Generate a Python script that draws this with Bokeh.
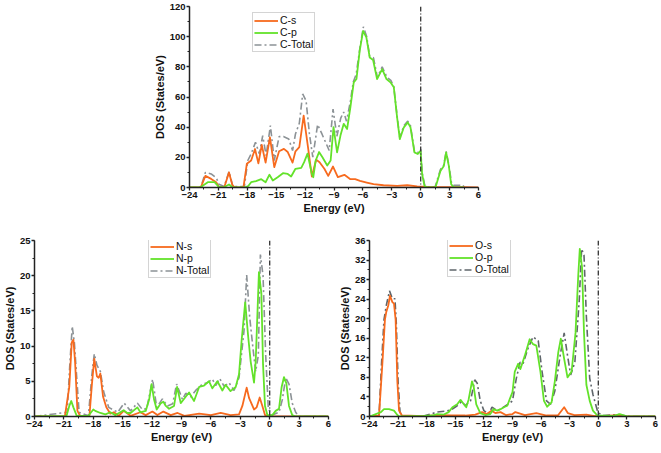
from bokeh.plotting import figure
from bokeh.models import Span, Legend, LegendItem, Range1d, SingleIntervalTicker
from bokeh.layouts import column, row
from bokeh.embed import file_html
from bokeh.resources import INLINE

# ---------------- data: C panel ----------------
c_s_e = [-24, -23.0, -22.8, -22.35, -21.75, -21.23, -20.95, -20.6, -20.4, -19.9, -19.56, -19.3,
         -18.4, -18.05, -17.6, -17.2, -16.85, -16.5, -16.1, -15.65, -15.2, -14.7, -14.2, -13.8,
         -13.3, -13.0, -12.6, -12.15, -11.7, -11.3, -10.85, -10.5, -10.0, -9.6, -9.1, -8.6,
         -7.92, -7.3, -6.8, -6.3, -5.6, -4.9, -3.86, -2.45, -1.4, -0.37, 0.67, 2.0, 4.5, 6]
c_s = [0, 0, 0.5, 7.7, 5.7, 3.5, 0.4, 0, 0, 10.0, 1.8, 0,
       0, 15.7, 17.9, 25.5, 16.0, 28.2, 16.5, 33.3, 13.5, 24.0, 25.6, 23.5,
       16.5, 24.0, 26.7, 47.6, 26.7, 7.3, 18.5, 16.8, 12.4, 7.7, 13.9, 6.9,
       8.4, 5.5, 5.5, 4.4, 3.3, 2.2, 1.5, 1.1, 1.5, 0.7, 0.4, 0.3, 0.3, 0]
c_p_e = [-24, -22.9, -22.1, -21.4, -20.95, -20.5, -19.9, -19.5, -18.3, -17.9, -17.6, -17.1,
         -16.55, -16.1, -15.7, -15.35, -14.85, -14.3, -13.8, -13.45, -13.0, -12.4, -12.1, -11.75,
         -11.3, -11.15, -10.9, -10.55, -10.2, -9.7, -9.35, -9.05, -8.68, -8.33, -7.99, -7.64,
         -7.3, -6.95, -6.67, -6.33, -5.98, -5.64, -5.29, -4.94, -4.53, -4.0, -3.55, -3.14,
         -2.79, -2.45, -2.17, -1.75, -1.34, -1.06, -0.65, -0.3, -0.02, 0.15, 0.39, 0.67,
         1.53, 2.05, 2.4, 2.64, 2.92, 3.16, 3.44, 4.5]
c_p = [0, 0, 3.5, 3.5, 0.4, 0, 2.0, 0, 0, 1.0, 3.5, 4.2,
       5.5, 3.5, 8.5, 4.6, 6.8, 9.5, 9.0, 7.3, 12.4, 13.0, 16.8, 22.5,
       9.0, 6.8, 17.9, 23.5, 20.1, 14.6, 17.9, 40.0, 23.3, 34.4, 42.2, 38.8,
       53.2, 69.7, 71.9, 90.7, 103.9, 99.5, 86.2, 84.5, 71.9, 78.5, 71.9, 69.7,
       66.4, 46.5, 32.1, 39.9, 43.2, 39.9, 23.3, 22.2, 24.4, 8.8, 1.1, 0,
       0, 11.0, 14.3, 23.2, 14.3, 2.2, 0, 0]
c_t_e = [-24, -23.0, -22.8, -22.35, -21.75, -21.2, -20.95, -20.4, -19.9, -19.5, -18.3, -17.95,
         -17.6, -17.15, -16.75, -16.4, -16.05, -15.6, -15.2, -14.7, -14.2, -13.7, -13.3, -13.0,
         -12.6, -12.25, -11.9, -11.55, -11.2, -10.7, -10.25, -9.8, -9.5, -9.1, -8.7, -8.3,
         -8.0, -7.7, -7.3, -7.0, -6.7, -6.3, -5.95, -5.6, -5.3, -4.9, -4.5, -4.0,
         -3.5, -3.1, -2.8, -2.45, -2.17, -1.75, -1.34, -1.06, -0.65, -0.3, 0.0, 0.15,
         0.4, 0.7, 1.5, 2.05, 2.4, 2.64, 2.92, 3.2, 3.4, 4.4, 4.5]
c_t = [0, 0, 0.7, 10.0, 9.0, 6.2, 2.2, 0.7, 10.6, 0.7, 0.7, 17.9,
       22.3, 30.0, 22.3, 34.4, 21.2, 41.0, 17.9, 33.7, 33.7, 32.2, 24.5, 35.5,
       42.6, 62.0, 57.6, 35.5, 20.1, 41.7, 35.5, 28.9, 24.5, 52.0, 34.0, 46.0,
       50.0, 44.0, 57.0, 70.0, 75.0, 93.0, 106.5, 100.0, 87.0, 86.0, 73.0, 80.0,
       73.0, 71.0, 67.0, 47.5, 33.0, 41.0, 44.0, 41.0, 24.0, 23.0, 25.5, 10.0,
       2.0, 0.5, 0.5, 12.0, 15.0, 24.0, 15.0, 3.0, 1.5, 1.5, 0]

# ---------------- data: N panel ----------------
n_s_e = [-24, -20.9, -20.45, -20.2, -20.03, -19.86, -19.62, -19.35, -18.4, -18.14, -17.9, -17.63,
         -17.46, -17.28, -17.0, -16.67, -16.26, -15.9, -15.4, -14.9, -14.2, -13.2, -12.65, -11.97,
         -11.46, -10.85, -10.1, -9.4, -8.7, -7.2, -6.0, -5.0, -4.0, -3.13, -2.79, -2.35,
         -2.1, -1.6, -1.33, -1.02, -0.75, -0.48, -0.07, 6]
n_s = [0, 0, 4.2, 10.5, 10.9, 7.8, 0.8, 0.1, 0, 4.6, 8.2, 5.7,
       5.5, 6.1, 2.8, 1.3, 0.4, 0.6, 0.1, 0.8, 0.1, 0.6, 0.2, 0.7,
       0.2, 0.7, 0.2, 0.5, 0.1, 0.4, 0.2, 0.5, 0.2, 0.3, 1.5, 4.1,
       2.6, 1.0, 1.3, 2.7, 1.5, 0.2, 0, 0]
n_p_e = [-24, -20.73, -20.45, -20.25, -20.03, -19.69, -18.5, -18.0, -17.8, -17.28, -16.77, -16.26,
         -15.75, -15.24, -14.9, -14.55, -14.2, -13.5, -13.2, -12.65, -12.3, -12.05, -11.8, -11.53,
         -11.1, -10.85, -10.6, -10.27, -9.76, -9.45, -9.08, -8.57, -8.23, -7.72, -7.2, -6.7,
         -6.19, -5.85, -5.34, -4.83, -4.5, -4.0, -3.47, -3.13, -2.86, -2.5, -2.2, -1.94,
         -1.6, -1.43, -1.1, -0.85, -0.68, -0.48, -0.24, 0.27, 0.61, 0.95, 1.22, 1.46,
         1.7, 1.97, 2.3, 2.65, 6]
n_p = [0, 0.1, 1.5, 2.2, 1.3, 0.1, 0.1, 1.0, 0.8, 0.5, 0.3, 0.6,
       0.2, 0.6, 0.9, 0.5, 0.5, 1.3, 0.6, 0.8, 2.4, 4.6, 2.4, 1.0,
       1.9, 2.1, 1.5, 1.1, 1.5, 4.2, 1.9, 2.8, 3.4, 2.2, 4.2, 4.4,
       5.0, 4.0, 5.0, 3.7, 4.5, 3.6, 4.2, 6.0, 10.9, 16.2, 11.4, 7.8,
       4.8, 7.8, 20.5, 17.5, 7.4, 1.5, 0.2, 0.2, 0.8, 1.1, 4.2, 5.6,
       4.7, 1.5, 0.2, 0, 0]
n_t_e = [-24, -20.66, -20.4, -20.15, -19.93, -19.69, -19.45, -18.5, -18.14, -17.9, -17.63, -17.28,
         -16.94, -16.43, -15.9, -15.5, -14.85, -14.2, -13.5, -13.0, -12.55, -11.95, -11.53, -10.95,
         -10.44, -9.9, -9.5, -8.9, -8.57, -8.06, -7.55, -6.87, -6.36, -5.85, -5.51, -5.1,
         -4.66, -4.15, -3.64, -3.13, -2.62, -2.35, -2.04, -1.7, -1.43, -1.16, -0.95, -0.68,
         -0.41, -0.14, 0.27, 0.95, 1.29, 1.63, 1.97, 2.3, 2.65, 2.99, 6]
n_t = [0, 0.6, 7.3, 12.8, 10.5, 5.5, 0.6, 0.1, 6.0, 8.9, 7.3, 6.4,
       3.5, 1.3, 0.9, 0.6, 1.9, 0.8, 1.9, 1.0, 1.1, 5.3, 1.3, 2.5,
       1.5, 1.8, 4.6, 2.4, 3.3, 2.8, 3.7, 4.6, 4.8, 5.3, 4.4, 5.4,
       4.3, 4.8, 3.7, 5.5, 12.2, 20.1, 14.1, 9.6, 6.4, 8.7, 23.0, 20.0,
       8.7, 1.1, 0.2, 0.6, 2.4, 5.5, 4.6, 1.9, 0.6, 0, 0]

# ---------------- data: O panel ----------------
o_s_e = [-24, -23.0, -22.66, -22.38, -22.24, -22.03, -21.85, -21.6, -21.43, -21.26, -21.08, -20.9,
         -20.6, -18.3, -16.7, -15.4, -13.96, -12.9, -12.2, -11.7, -11.2, -10.8, -10.26, -9.7,
         -9.0, -8.7, -7.7, -6.5, -5.43, -4.2, -3.58, -3.2, -2.5, -1.25, -0.4, 0, 2.0, 2.5, 6]
o_s = [0, 0.2, 10.5, 19.8, 21.4, 22.7, 24.7, 23.4, 23.1, 19.8, 7.2, 1.2,
       0.2, 0.05, 0.3, 0.25, 0.2, 0.4, 0.9, 0.5, 1.2, 0.7, 0.9, 0.3,
       0.5, 0.9, 0.3, 0.7, 0.2, 0.3, 1.9, 0.7, 0.3, 0.4, 0.1, 0, 0.3, 0, 0]
o_p_e = [-24, -22.8, -22.48, -21.96, -21.43, -21.08, -20.9, -18.3, -17.4, -16.9, -16.2, -15.7,
         -15.3, -14.8, -14.45, -14.1, -13.85, -13.6, -13.25, -13.08, -12.8, -12.38, -11.86, -11.33,
         -11.0, -10.6, -10.26, -9.9, -9.55, -9.3, -9.0, -8.76, -8.4, -8.17, -7.7, -7.2,
         -6.84, -6.5, -6.07, -5.7, -5.36, -4.9, -4.56, -4.2, -3.93, -3.58, -3.23, -2.8,
         -2.39, -2.1, -1.94, -1.7, -1.5, -1.25, -0.9, -0.56, -0.1, 1.5, 2.25, 3.1, 6]
o_p = [0, 0.9, 1.5, 1.5, 1.2, 0.3, 0, 0.1, 0.2, 0.5, 0.4, 0.9,
       1.9, 2.5, 3.4, 2.5, 1.9, 3.5, 7.2, 6.2, 2.5, 0.7, 0.3, 0.5,
       1.5, 1.2, 1.5, 1.9, 2.2, 3.5, 5.0, 9.2, 10.8, 9.7, 12.5, 15.8,
       14.8, 14.5, 9.2, 3.2, 2.0, 2.9, 7.2, 13.1, 15.9, 11.8, 8.0, 9.2,
       17.1, 29.0, 34.3, 30.4, 17.1, 6.5, 3.2, 1.2, 0.2, 0.1, 0.5, 0, 0]
o_t_e = [-24, -23.0, -22.73, -22.48, -22.24, -21.9, -21.6, -21.33, -21.19, -21.0, -20.8, -20.56,
         -18.3, -16.9, -16.0, -15.5, -14.8, -14.3, -13.96, -13.4, -12.96, -12.7, -12.38, -12.0,
         -11.5, -11.15, -10.6, -10.1, -9.55, -9.0, -8.6, -8.2, -7.9, -7.4, -6.84, -6.3,
         -5.9, -5.43, -5.0, -4.56, -4.0, -3.58, -3.23, -2.9, -2.46, -2.0, -1.75, -1.5,
         -1.25, -0.9, -0.56, -0.03, 0.6, 2.1, 3.3, 6]
o_t = [0, 0.1, 11.1, 19.8, 22.7, 25.7, 24.1, 24.1, 19.1, 7.2, 0.9, 0.1,
       0.1, 0.9, 1.1, 1.3, 2.2, 3.1, 2.2, 3.2, 7.5, 6.8, 3.2, 1.2,
       0.5, 1.9, 1.2, 1.7, 2.4, 3.2, 7.8, 11.1, 10.8, 13.8, 16.3, 15.5,
       9.2, 3.2, 2.5, 5.2, 12.5, 17.1, 12.5, 8.5, 11.1, 23.7, 34.3, 33.0,
       20.4, 7.8, 4.5, 0.7, 0.2, 0.4, 0, 0]

x_start, x_end = -24, 6
fermi_level = 0

S_COLOR = "#F76A1E"
P_COLOR = "#63E22A"
FONT = "Liberation Sans"


def panel(width, height, left, right, top, bottom, y_end, y_step,
          series, labels, legend_xy, total_color):
    p = figure(width=width, height=height, output_backend="svg", toolbar_location=None,
               x_range=Range1d(x_start, x_end), y_range=Range1d(0, y_end),
               min_border_left=left, min_border_right=right,
               min_border_top=top, min_border_bottom=bottom,
               background_fill_color="white", border_fill_color="white")
    p.outline_line_color = None
    p.grid.visible = False
    p.xaxis.ticker = SingleIntervalTicker(interval=3, num_minor_ticks=2)
    p.yaxis.ticker = SingleIntervalTicker(interval=y_step, num_minor_ticks=2)
    p.xaxis.axis_label = "Energy (eV)"
    p.yaxis.axis_label = "DOS (States/eV)"
    for ax in (p.xaxis[0], p.yaxis[0]):
        ax.axis_line_color = "#222222"
        ax.axis_line_width = 1.5
        ax.major_tick_line_color = "#222222"
        ax.minor_tick_line_color = "#222222"
        ax.major_tick_line_width = 1.3
        ax.major_tick_out = 3
        ax.major_tick_in = 0
        ax.minor_tick_out = 2
        ax.minor_tick_in = 0
        ax.major_label_text_font = FONT
        ax.major_label_text_font_style = "bold"
        ax.major_label_text_font_size = "9.5px"
        ax.major_label_text_color = "#111111"
        ax.major_label_standoff = 1
        ax.axis_label_text_font = FONT
        ax.axis_label_text_font_style = "bold"
        ax.axis_label_text_font_size = "11px"
        ax.axis_label_text_color = "#111111"
        ax.axis_label_standoff = 1

    (se, sv), (pe, pv), (te, tv) = series
    rt = p.line(te, tv, line_color=total_color, line_width=1.6, line_dash="7 3 2 3")
    rs = p.line(se, sv, line_color=S_COLOR, line_width=1.8, line_join="round")
    rp = p.line(pe, pv, line_color=P_COLOR, line_width=1.8, line_join="round")
    p.add_layout(Span(location=fermi_level, dimension="height", line_color="#333333",
                      line_width=1.3, line_dash="5 2 1 2"))
    leg = Legend(items=[LegendItem(label=labels[0], renderers=[rs]),
                        LegendItem(label=labels[1], renderers=[rp]),
                        LegendItem(label=labels[2], renderers=[rt])],
                 location=legend_xy)
    leg.label_text_font = FONT
    leg.label_text_font_size = "10.5px"
    leg.label_text_color = "#111111"
    leg.border_line_color = "#aaaaaa"
    leg.border_line_width = 1
    leg.background_fill_alpha = 1
    leg.glyph_width = 24
    leg.glyph_height = 11
    leg.label_height = 11
    leg.label_standoff = 2
    leg.padding = 1
    leg.spacing = 0
    leg.margin = 0
    p.add_layout(leg)
    return p


p_c = panel(661, 218, 189, 183, 6, 31, 120, 20,
            [(c_s_e, c_s), (c_p_e, c_p), (c_t_e, c_t)],
            ["C-s", "C-p", "C-Total"], (63, 135), "#8C9296")
p_n = panel(332, 235, 34, 4, 13, 37, 25, 5,
            [(n_s_e, n_s), (n_p_e, n_p), (n_t_e, n_t)],
            ["N-s", "N-p", "N-Total"], (114, 138), "#8C9296")
p_o = panel(329, 235, 37, 6, 22, 32, 36, 4,
            [(o_s_e, o_s), (o_p_e, o_p), (o_t_e, o_t)],
            ["O-s", "O-p", "O-Total"], (78, 139), "#5F666B")

layout = column(p_c, row(p_n, p_o))
open("out.html", "w").write(file_html(layout, INLINE))
